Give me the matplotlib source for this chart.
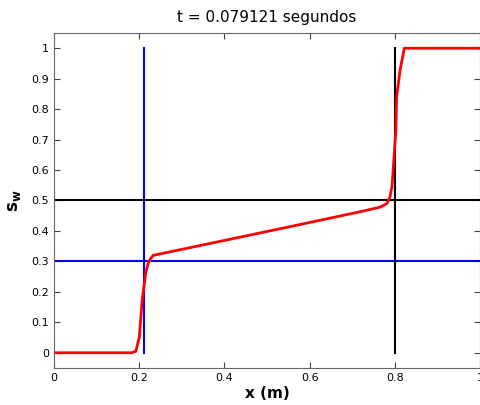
import matplotlib
matplotlib.use('Agg')
import matplotlib.pyplot as plt

# perfil de saturacao
x_sw = [0.0, 0.10, 0.182, 0.192, 0.20, 0.207, 0.215, 0.221, 0.227, 0.233, 0.39,
        0.55, 0.718, 0.765, 0.781, 0.788, 0.793, 0.797, 0.802, 0.804, 0.812,
        0.822, 0.9, 1.0]
sw = [0.0, 0.0, 0.0, 0.005, 0.05, 0.174, 0.26, 0.295, 0.31, 0.32, 0.366,
      0.413, 0.463, 0.478, 0.49, 0.51, 0.545, 0.623, 0.73, 0.84, 0.928,
      1.0, 1.0, 1.0]

x_frente_azul = 0.21
x_frente_preta = 0.80
sw_azul = 0.3
sw_preta = 0.5

fig = plt.figure(figsize=(4.81, 4.05), dpi=100)
ax = fig.add_axes([0.1123, 0.0914, 0.886, 0.8271])

ax.plot([x_frente_azul, x_frente_azul], [0, 1], color='#0000ff', lw=1.5)
ax.plot([0, 1], [sw_azul, sw_azul], color='#0000ff', lw=1.5)
ax.plot([x_frente_preta, x_frente_preta], [0, 1], color='black', lw=1.5)
ax.plot([0, 1], [sw_preta, sw_preta], color='black', lw=1.5)
ax.plot(x_sw, sw, color='#ff0000', lw=2)

ax.set_xlim(0, 1)
ax.set_ylim(-0.05, 1.05)
ax.set_xticks([0, 0.2, 0.4, 0.6, 0.8, 1])
ax.set_xticklabels(['0', '0.2', '0.4', '0.6', '0.8', '1'])
ax.set_yticks([i / 10 for i in range(11)])
ax.set_yticklabels(['0', '0.1', '0.2', '0.3', '0.4', '0.5', '0.6', '0.7', '0.8', '0.9', '1'])
ax.tick_params(direction='in', top=True, right=True, labelsize=8, length=4,
               color='#444444')
for s in ax.spines.values():
    s.set_color('#666666')

ax.set_title('t = 0.079121 segundos', fontsize=11, pad=8)
ax.set_xlabel('x (m)', fontsize=11, fontweight='bold', labelpad=2)
ax.set_ylabel(r'$\mathbf{s_w}$', fontsize=12, labelpad=6)

fig.savefig('out.png', dpi=100)
